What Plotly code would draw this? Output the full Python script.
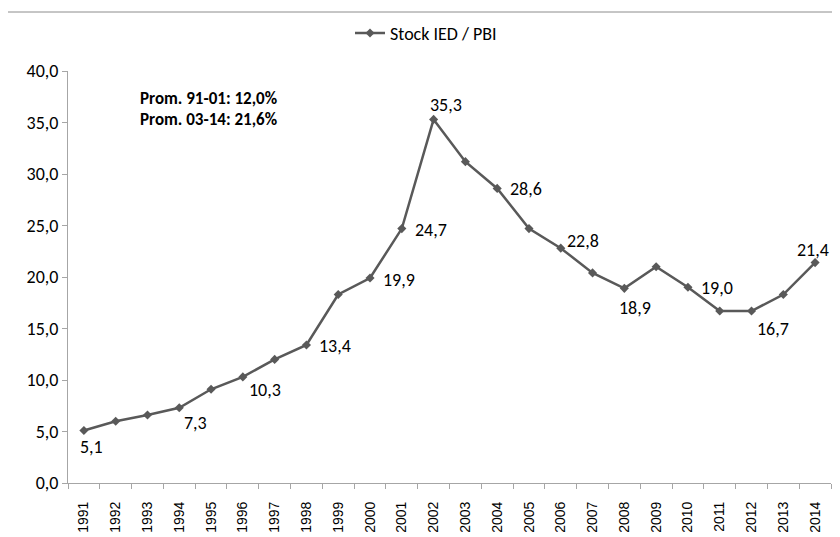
import plotly.graph_objects as go

years = [str(y) for y in range(1991, 2015)]
values = [5.1, 6.0, 6.6, 7.3, 9.1, 10.3, 12.0, 13.4, 18.3, 19.9, 24.7, 35.3,
          31.2, 28.6, 24.7, 22.8, 20.4, 18.9, 21.0, 19.0, 16.7, 16.7, 18.3, 21.4]
labelled_years = ["1991", "1994", "1996", "1998", "2000", "2001", "2002", "2004",
                  "2006", "2008", "2010", "2012", "2014"]
# label offsets in pixels (dx right, dy down) relative to the point
label_offsets = {"1991": (8, 17), "1994": (16, 15), "1996": (22, 13), "1998": (29, 1),
                 "2000": (29, 2), "2001": (29, 1), "2002": (12, -14), "2004": (29, 1),
                 "2006": (22, -7), "2008": (11, 20), "2010": (29, 1), "2012": (21, 18),
                 "2014": (-2, -13)}
series_name = "Stock IED / PBI"
notes = ["Prom. 91-01: 12,0%", "Prom. 03-14: 21,6%"]

FONT = "Carlito, Lato, sans-serif"
fig = go.Figure()
fig.add_trace(go.Scatter(
    x=years, y=values, name=series_name, mode="lines+markers",
    line=dict(color="#595959", width=2.5),
    marker=dict(symbol="diamond", size=7, color="#595959"),
    cliponaxis=False,
))

annotations = []
for i, (y, v) in enumerate(zip(years, values)):
    if y in labelled_years:
        dx, dy = label_offsets[y]
        annotations.append(dict(
            x=i, y=v, xref="x", yref="y", text=("%.1f" % v).replace(".", ","),
            showarrow=False, xanchor="center", yanchor="middle",
            xshift=dx, yshift=-dy,
            font=dict(family=FONT, size=18, color="#000000")))

annotations += [
    dict(text="<b>%s</b>" % notes[0], xref="paper", yref="paper", x=0.0917, y=0.933,
         xanchor="left", yanchor="middle", showarrow=False,
         font=dict(family=FONT, size=17, color="#000000")),
    dict(text="<b>%s</b>" % notes[1], xref="paper", yref="paper", x=0.0917, y=0.8823,
         xanchor="left", yanchor="middle", showarrow=False,
         font=dict(family=FONT, size=17, color="#000000")),
]

fig.update_layout(
    width=840, height=537,
    margin=dict(l=60, r=17, t=63, b=62),
    paper_bgcolor="white", plot_bgcolor="white",
    separators=",.",
    showlegend=True,
    legend=dict(orientation="h", x=0.3696, xref="paper", y=0.953, yref="container",
                xanchor="left", yanchor="middle",
                font=dict(family=FONT, size=18, color="#000000"),
                bgcolor="rgba(0,0,0,0)"),
    xaxis=dict(type="category", range=[-0.5, len(years) - 0.5], automargin=False,
               tickson="boundaries", ticks="outside", ticklen=5,
               tickcolor="#a6a6a6", showline=True, linecolor="#a6a6a6", linewidth=1,
               showgrid=False, tickangle=-90, ticklabelstandoff=12,
               tickfont=dict(family="Liberation Sans, Arial", size=14, color="#000000")),
    yaxis=dict(range=[0, 40], dtick=5, tickformat=".1f", ticks="outside", ticklen=5,
               automargin=False,
               tickcolor="#a6a6a6", showline=True, linecolor="#a6a6a6", linewidth=1,
               showgrid=False, zeroline=False,
               tickfont=dict(family=FONT, size=18, color="#000000")),
    shapes=[dict(type="rect", xref="paper", yref="paper", x0=-0.08, x1=1.3,
                 y0=-0.3, y1=1.1432, line=dict(color="#8c8c8c", width=1), layer="below")],
    annotations=annotations,
)

fig.write_html("out.html")
